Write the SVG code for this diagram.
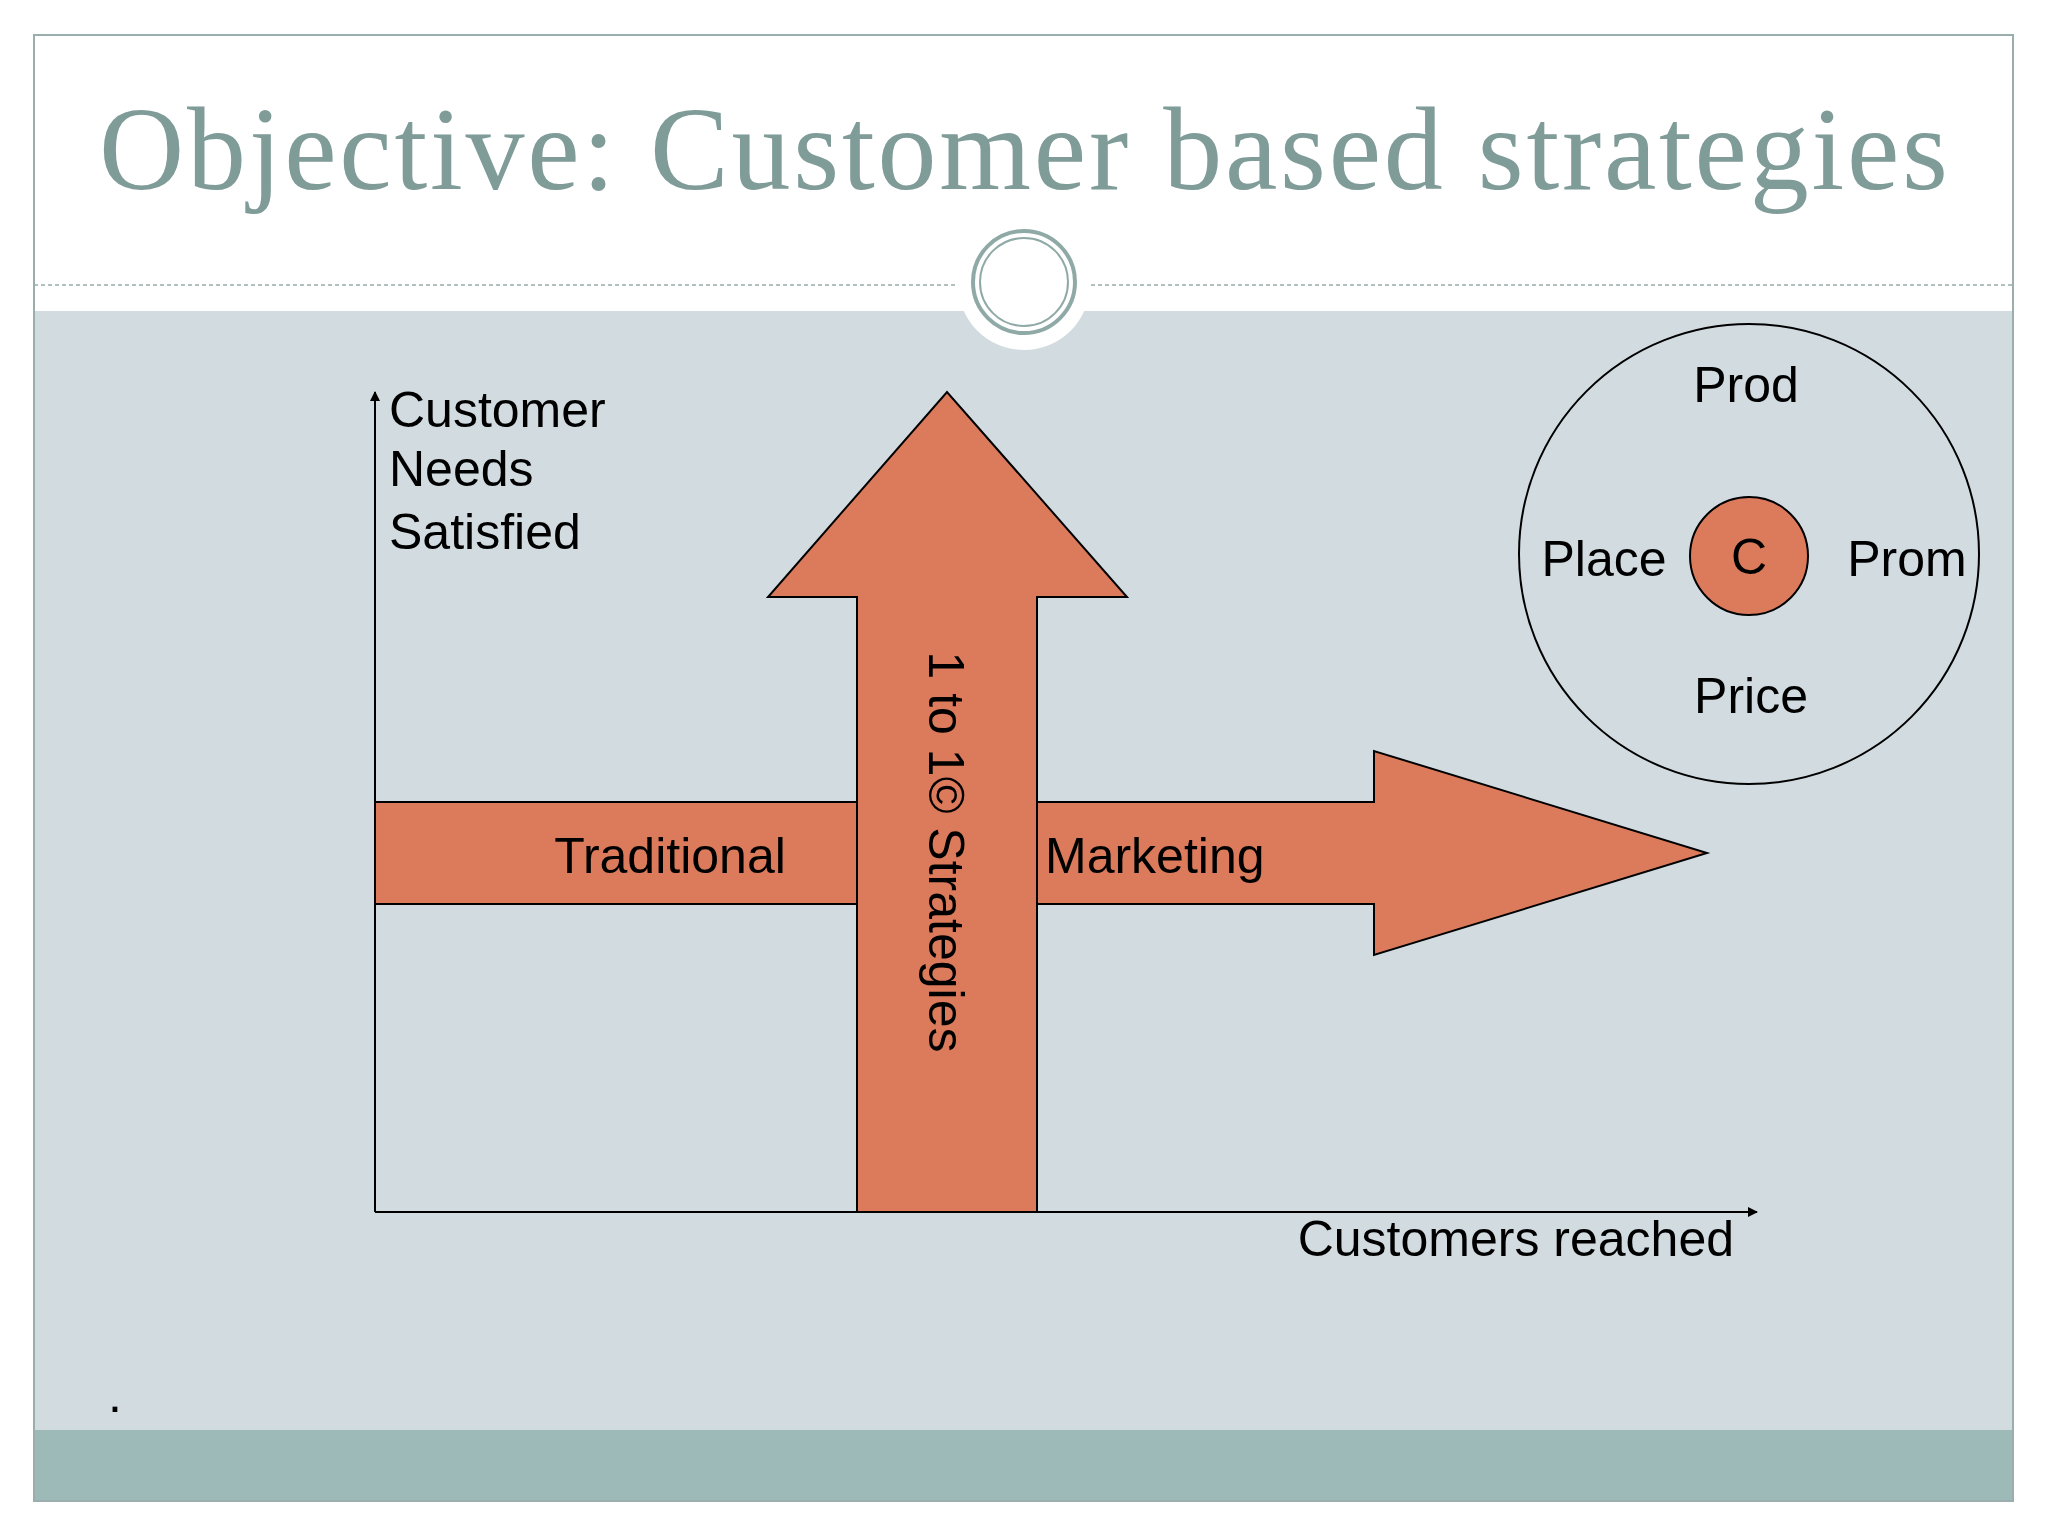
<svg xmlns="http://www.w3.org/2000/svg" width="2048" height="1536" viewBox="0 0 2048 1536">
<style>
.t{font-family:"Liberation Sans",Arial,sans-serif;font-size:50px;fill:#000}
.arr{fill:#dc7b5c;stroke:#000;stroke-width:2}
</style>
<defs><marker id="ah" markerWidth="10" markerHeight="10" refX="9" refY="5" orient="auto" markerUnits="userSpaceOnUse"><path d="M0,0 L10,5 L0,10z" fill="#000"/></marker></defs>
<rect width="2048" height="1536" fill="#fff"/>
<rect x="34" y="311" width="1979" height="1119" fill="#d1dbe0"/>
<rect x="34" y="1430" width="1979" height="71" fill="#9dbab8"/>
<rect x="34" y="35" width="1979" height="1466" fill="none" stroke="#9aaeae" stroke-width="2"/>
<line x1="34" y1="285" x2="2013" y2="285" stroke="#9aa" stroke-width="1.5" stroke-dasharray="4,3"/>
<circle cx="1024" cy="284" r="66" fill="#fff"/>
<circle cx="1024" cy="282" r="51" fill="#fff" stroke="#8faaa6" stroke-width="4"/>
<circle cx="1024" cy="282" r="44" fill="none" stroke="#8faaa6" stroke-width="2"/>
<text x="99" y="189" font-family="Liberation Serif,serif" font-size="118" fill="#7f9c98" textLength="1849">Objective: Customer based strategies</text>
<g id="connectors">
<line x1="375" y1="1212" x2="375" y2="392" stroke="#000" stroke-width="2" marker-end="url(#ah)"/>
<line x1="375" y1="1212" x2="1757" y2="1212" stroke="#000" stroke-width="2" marker-end="url(#ah)"/>
</g>
<g id="traditional-arrow">
<path class="arr" d="M375,802 H1374 V751 L1707,853 L1374,955 V904 H375z"/>
<text class="t" x="670" y="873" text-anchor="middle">Traditional</text>
<text class="t" x="1045" y="873">Marketing</text>
</g>
<g id="one-to-one-arrow">
<path class="arr" d="M857,1212 V597 H768 L947,392 L1127,597 H1037 V1212z"/>
<text class="t" transform="translate(929,852) rotate(90)" text-anchor="middle">1 to 1©  Strategies</text>
</g>
<g id="y-label">
<text class="t" x="389" y="427">Customer</text>
<text class="t" x="389" y="486">Needs</text>
<text class="t" x="389" y="549">Satisfied</text>
</g>
<text id="x-label" class="t" x="1734" y="1256" text-anchor="end">Customers reached</text>
<g id="four-p">
<circle cx="1749" cy="554" r="230" fill="none" stroke="#000" stroke-width="2"/>
<circle cx="1749" cy="556" r="59" fill="#dc7b5c" stroke="#000" stroke-width="2"/>
<text class="t" x="1749" y="574" text-anchor="middle">C</text>
<text class="t" x="1746" y="402" text-anchor="middle">Prod</text>
<text class="t" x="1604" y="576" text-anchor="middle">Place</text>
<text class="t" x="1907" y="576" text-anchor="middle">Prom</text>
<text class="t" x="1751" y="713" text-anchor="middle">Price</text>
</g>
<text class="t" x="108" y="1412">.</text>
</svg>
